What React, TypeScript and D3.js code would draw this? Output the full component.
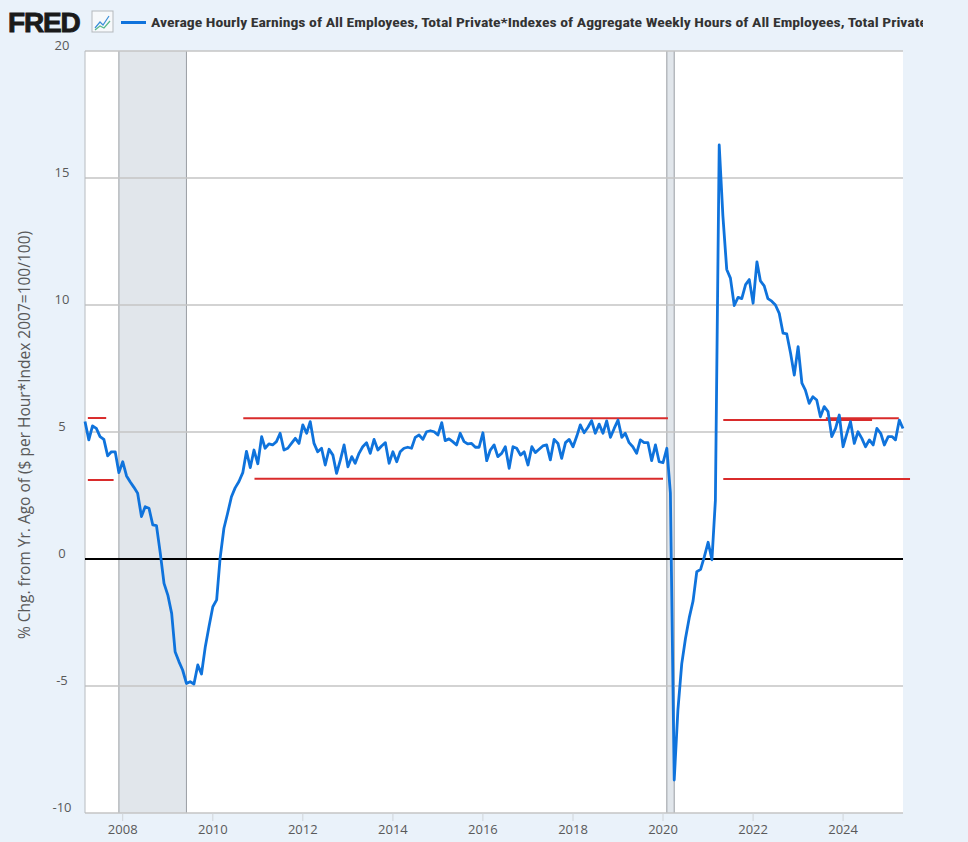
import React, { useEffect, useRef } from 'react';
import * as d3 from 'd3';

// monthly % change from a year ago, starting 2007-03
const startMonth = '2007-03-01';
const yoyChange: number[] = [
  // 2007 (Mar-Dec)
  5.41, 4.69, 5.24, 5.14, 4.82, 4.71, 4.06, 4.22, 4.22, 3.40,
  // 2008
  3.83, 3.27, 3.04, 2.82, 2.59, 1.67, 2.06, 2.00, 1.34, 1.31, 0.22, -0.96,
  // 2009
  -1.42, -2.14, -3.65, -4.04, -4.37, -4.90, -4.83, -4.92, -4.17, -4.53, -3.45, -2.66,
  // 2010
  -1.88, -1.61, 0.03, 1.21, 1.80, 2.45, 2.80, 3.05, 3.40, 4.24, 3.60, 4.29,
  // 2011
  3.75, 4.82, 4.36, 4.53, 4.49, 4.62, 4.95, 4.29, 4.36, 4.55, 4.75, 4.55,
  // 2012
  5.28, 4.95, 5.41, 4.55, 4.22, 4.36, 3.70, 4.32, 4.09, 3.37, 3.90, 4.49,
  // 2013
  3.63, 4.03, 3.77, 4.16, 4.42, 4.58, 4.16, 4.71, 4.29, 4.45, 4.58, 3.77,
  // 2014
  4.22, 3.83, 4.22, 4.36, 4.40, 4.36, 4.79, 4.88, 4.71, 5.01, 5.05, 5.01,
  // 2015
  4.88, 5.37, 4.66, 4.73, 4.62, 4.49, 4.95, 4.62, 4.53, 4.55, 4.40, 4.40,
  // 2016
  4.97, 3.87, 4.29, 4.49, 4.03, 4.16, 4.42, 3.57, 4.42, 4.36, 4.09, 4.22,
  // 2017
  3.70, 4.42, 4.19, 4.32, 4.45, 4.49, 3.90, 4.71, 4.55, 3.96, 4.58, 4.71,
  // 2018
  4.42, 4.84, 5.28, 4.97, 5.18, 5.44, 4.95, 5.31, 4.95, 5.44, 4.79, 5.14,
  // 2019
  5.47, 4.79, 4.95, 4.58, 4.42, 4.16, 4.69, 4.58, 4.58, 3.87, 4.49, 3.83,
  // 2020
  3.79, 4.36, 2.60, -8.70, -5.94, -4.13, -3.14, -2.31, -1.65, -0.50, -0.41, 0.08,
  // 2021
  0.66, -0.03, 2.31, 16.30, 13.50, 11.40, 11.06, 9.98, 10.30, 10.25, 10.80, 11.00,
  // 2022
  10.07, 11.70, 10.95, 10.75, 10.25, 10.15, 10.00, 9.67, 8.89, 8.86, 8.10, 7.24,
  // 2023
  8.36, 6.92, 6.65, 6.13, 6.39, 6.26, 5.60, 6.00, 5.80, 4.82, 5.14, 5.67,
  // 2024
  4.42, 4.95, 5.41, 4.55, 5.01, 4.75, 4.42, 4.69, 4.49, 5.14, 4.95, 4.49,
  // 2025
  4.82, 4.82, 4.69, 5.47, 5.14,
];

const recessionStart = ['2007-12-01', '2020-02-01'];
const recessionEnd = ['2009-06-01', '2020-04-01'];

// hand-drawn red reference lines
const bandStart = ['2007-03-24', '2007-03-24', '2010-09-05', '2010-12-05', '2021-05-04', '2021-05-04', '2023-08-14'];
const bandEnd = ['2007-08-20', '2007-10-19', '2020-02-10', '2020-01-01', '2024-08-23', '2025-06-27', '2025-03-28'];
const bandLevel = [5.55, 3.11, 5.54, 3.16, 5.47, 3.15, 5.54];

const yTicks = [-10, -5, 0, 5, 10, 15, 20];
const xTickYears = [2008, 2010, 2012, 2014, 2016, 2018, 2020, 2022, 2024];

const seriesTitle =
  'Average Hourly Earnings of All Employees, Total Private*Indexes of Aggregate Weekly Hours of All Employees, Total Private';
const yAxisTitle = '% Chg. from Yr. Ago of ($ per Hour*Index 2007=100/100)';

const W = 968;
const H = 842;
const BLUE = '#0f73dc';
const RED = '#d92b2b';
const FONT = '"Open Sans", Roboto, sans-serif';

export default function App() {
  const svgRef = useRef<SVGSVGElement>(null);

  useEffect(() => {
    document.body.style.margin = '0';
    if (!svgRef.current) return;
    const svg = d3.select(svgRef.current);
    svg.selectAll('*').remove();

    const left = 85, right = 903, top = 51, bottom = 813;
    const parse = d3.timeParse('%Y-%m-%d');
    const start = parse(startMonth)!;
    const dates = yoyChange.map((_, i) => d3.timeMonth.offset(start, i));

    const x = d3.scaleTime().domain([dates[0], dates[dates.length - 1]]).range([left, right]);
    const y = d3.scaleLinear().domain([-10, 20]).range([bottom, top]);

    svg.attr('width', W).attr('height', H);
    svg.append('rect').attr('width', W).attr('height', H).attr('fill', '#eaf2fa');
    svg.append('rect')
      .attr('x', left).attr('y', top)
      .attr('width', right - left).attr('height', bottom - top)
      .attr('fill', '#fff');

    // recession bars
    recessionStart.forEach((s, i) => {
      const x0 = x(parse(s)!);
      const x1 = x(parse(recessionEnd[i])!);
      svg.append('rect')
        .attr('x', x0).attr('y', top)
        .attr('width', x1 - x0).attr('height', bottom - top)
        .attr('fill', '#e1e6eb');
      [x0, x1].forEach(xx => {
        svg.append('line')
          .attr('x1', xx).attr('x2', xx).attr('y1', top).attr('y2', bottom)
          .attr('stroke', '#9a9ea3').attr('stroke-width', 1);
      });
    });

    // grid
    yTicks.filter(t => t !== 0).forEach(t => {
      svg.append('line')
        .attr('x1', left).attr('x2', right)
        .attr('y1', y(t)).attr('y2', y(t))
        .attr('stroke', '#c4c4c4').attr('stroke-width', 1.5);
    });
    svg.append('line')
      .attr('x1', left).attr('x2', left).attr('y1', top).attr('y2', bottom)
      .attr('stroke', '#b8bcc0').attr('stroke-width', 1);
    svg.append('line')
      .attr('x1', left).attr('x2', right)
      .attr('y1', y(0)).attr('y2', y(0))
      .attr('stroke', '#000').attr('stroke-width', 2);

    // x axis ticks and labels
    xTickYears.forEach(yr => {
      const xx = x(new Date(yr, 0, 1));
      svg.append('line')
        .attr('x1', xx).attr('x2', xx).attr('y1', bottom).attr('y2', bottom + 8)
        .attr('stroke', '#d0d4d8').attr('stroke-width', 1);
      svg.append('text')
        .attr('x', xx).attr('y', 834)
        .attr('text-anchor', 'middle')
        .style('font-family', FONT)
        .style('font-size', '13px')
        .style('fill', '#595959')
        .text(yr);
    });

    // y labels
    yTicks.forEach(t => {
      svg.append('text')
        .attr('x', 62).attr('y', y(t) - 1)
        .attr('text-anchor', 'middle')
        .style('font-family', FONT)
        .style('font-size', '13px')
        .style('fill', '#595959')
        .text(t);
    });

    svg.append('text')
      .attr('transform', `translate(30, 435) rotate(-90)`)
      .attr('text-anchor', 'middle')
      .style('font-family', FONT)
      .style('font-size', '15.5px')
      .style('fill', '#595959')
      .text(yAxisTitle);

    // red reference lines
    bandStart.forEach((s, i) => {
      svg.append('line')
        .attr('x1', x(parse(s)!)).attr('x2', x(parse(bandEnd[i])!))
        .attr('y1', y(bandLevel[i])).attr('y2', y(bandLevel[i]))
        .attr('stroke', RED).attr('stroke-width', 2);
    });

    // series
    const line = d3.line<number>()
      .x((_, i) => x(dates[i]))
      .y(d => y(d));
    svg.append('path')
      .datum(yoyChange)
      .attr('d', line)
      .attr('fill', 'none')
      .attr('stroke', BLUE)
      .attr('stroke-width', 2.8)
      .attr('stroke-linejoin', 'round');

    // header
    svg.append('text')
      .attr('x', 8).attr('y', 31.5)
      .style('font-family', '"Liberation Sans", Arial, sans-serif')
      .style('font-weight', 900)
      .style('font-size', '28px')
      .style('letter-spacing', '-1.2px')
      .style('fill', '#1a1a1a')
      .style('stroke', '#1a1a1a')
      .style('stroke-width', '0.9px')
      .text('FRED');
    const icon = svg.append('g').attr('transform', 'translate(92, 11)');
    icon.append('rect').attr('width', 21).attr('height', 21)
      .attr('fill', '#f7f9fb').attr('stroke', '#b5b9bd').attr('stroke-width', 1);
    icon.append('polyline').attr('points', '3,17 8,11 11,14 17,5')
      .attr('fill', 'none').attr('stroke', '#3b8fd8').attr('stroke-width', 1.2);
    icon.append('polyline').attr('points', '3,19 8,15 12,17 18,10')
      .attr('fill', 'none').attr('stroke', '#57b88a').attr('stroke-width', 1.2);

    svg.append('line')
      .attr('x1', 121).attr('x2', 146).attr('y1', 22.5).attr('y2', 22.5)
      .attr('stroke', BLUE).attr('stroke-width', 3);

    svg.append('clipPath').attr('id', 'title-clip')
      .append('rect').attr('x', 0).attr('y', 0).attr('width', 923).attr('height', 40);
    svg.append('text')
      .attr('x', 151).attr('y', 27)
      .attr('clip-path', 'url(#title-clip)')
      .attr('textLength', 776)
      .attr('lengthAdjust', 'spacingAndGlyphs')
      .style('font-family', '"Liberation Sans Narrow", "Roboto Condensed", Roboto, sans-serif')
      .style('font-weight', 700)
      .style('font-size', '13px')
      .style('fill', '#333')
      .text(seriesTitle);
  }, []);

  return <svg ref={svgRef} style={{ display: 'block' }} />;
}
